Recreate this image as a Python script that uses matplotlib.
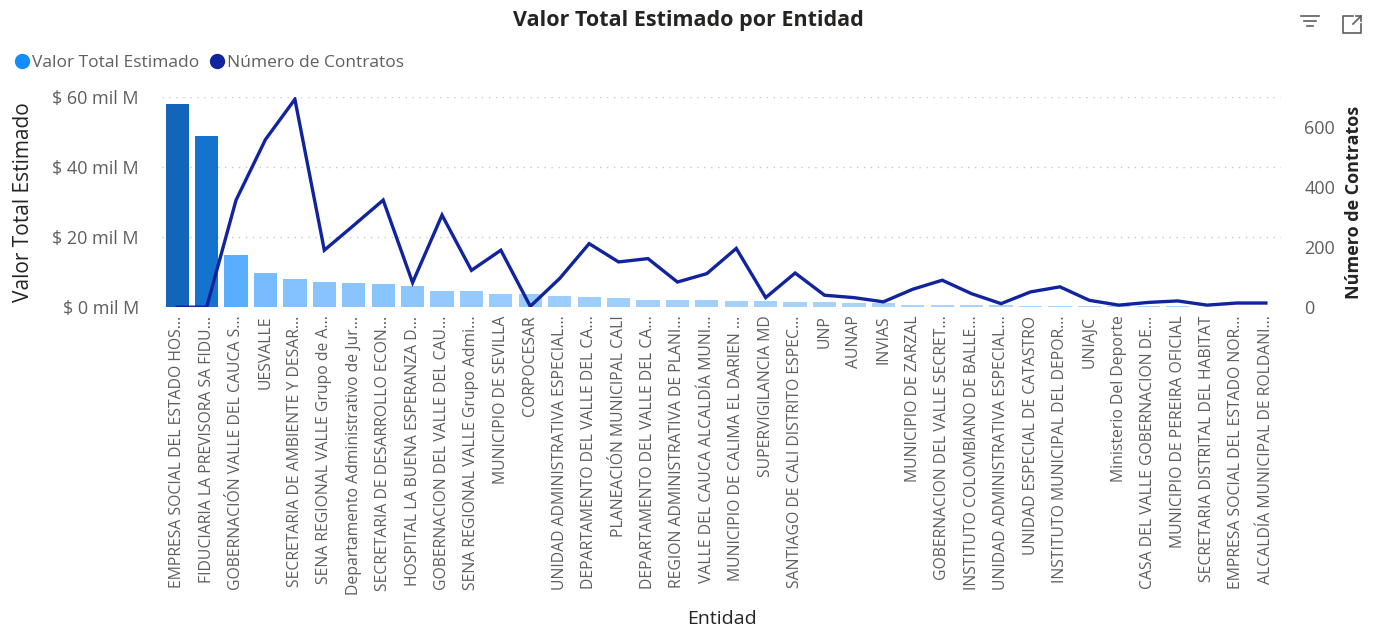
import numpy as np
import matplotlib.pyplot as plt
from matplotlib.colors import LinearSegmentedColormap
from matplotlib.lines import Line2D

plt.rcParams["font.family"] = ["Open Sans", "DejaVu Sans"]

entidades = [
    "EMPRESA SOCIAL DEL ESTADO HOS...", "FIDUCIARIA LA PREVISORA SA FIDU...",
    "GOBERNACIÓN VALLE DEL CAUCA S...", "UESVALLE",
    "SECRETARIA DE AMBIENTE Y DESAR...", "SENA REGIONAL VALLE Grupo de A...",
    "Departamento Administrativo de Jur...", "SECRETARIA DE DESARROLLO ECON...",
    "HOSPITAL LA BUENA ESPERANZA D...", "GOBERNACION DEL VALLE DEL CAU...",
    "SENA REGIONAL VALLE Grupo Admi...", "MUNICIPIO DE SEVILLA",
    "CORPOCESAR", "UNIDAD ADMINISTRATIVA ESPECIAL...",
    "DEPARTAMENTO DEL VALLE DEL CA...", "PLANEACIÓN MUNICIPAL CALI",
    "DEPARTAMENTO DEL VALLE DEL CA...", "REGION ADMINISTRATIVA DE PLANI...",
    "VALLE DEL CAUCA ALCALDÍA MUNI...", "MUNICIPIO DE CALIMA EL DARIEN ...",
    "SUPERVIGILANCIA MD", "SANTIAGO DE CALI DISTRITO ESPEC...",
    "UNP", "AUNAP", "INVIAS", "MUNICIPIO DE ZARZAL",
    "GOBERNACION DEL VALLE SECRET...", "INSTITUTO COLOMBIANO DE BALLE...",
    "UNIDAD ADMINISTRATIVA ESPECIAL...", "UNIDAD ESPECIAL DE CATASTRO",
    "INSTITUTO MUNICIPAL DEL DEPOR...", "UNIAJC", "Ministerio Del Deporte",
    "CASA DEL VALLE GOBERNACION DE...", "MUNICIPIO DE PEREIRA OFICIAL",
    "SECRETARIA DISTRITAL DEL HABITAT", "EMPRESA SOCIAL DEL ESTADO NOR...",
    "ALCALDÍA MUNICIPAL DE ROLDANI...",
]
# valor total estimado (mil millones)
valor = [58.0, 48.9, 15.0, 9.9, 8.0, 7.1, 7.0, 6.6, 6.2, 4.6, 4.5, 3.9,
         3.8, 3.2, 2.9, 2.7, 2.1, 2.1, 2.1, 1.8, 1.8, 1.5, 1.5, 1.1, 1.1,
         0.75, 0.75, 0.6, 0.5, 0.45, 0.4, 0.35, 0.3, 0.3, 0.25, 0.2, 0.2, 0.15]
contratos = [0, 0, 357, 559, 693, 190, 273, 357, 82, 307, 123, 190,
             3, 96, 212, 151, 162, 84, 112, 196, 32, 114, 40, 32, 18,
             60, 90, 45, 12, 51, 68, 23, 7, 16, 21, 7, 14, 14]

x = np.arange(len(entidades))
cmap = LinearSegmentedColormap.from_list(
    "pbi", [(0, "#acd5ff"), (0.15, "#7fbfff"), (0.3, "#4aa8ff"), (0.8, "#1577d3"), (1, "#1166ba")])
colores = cmap(np.array(valor) / max(valor))

fig = plt.figure(figsize=(13.77, 6.27), dpi=100)
ax = fig.add_axes([0.118, 0.510, 0.812, 0.335])
ax2 = ax.twinx()

ax.bar(x, valor, width=0.79, color=colores)
ax2.plot(x, contratos, color="#12239E", lw=2.4, solid_joinstyle="miter")

ax.set_xlim(-0.5, len(entidades) - 0.5)
ax.set_ylim(0, 60)
ax2.set_ylim(0, 700)
ax.set_yticks([0, 20, 40, 60])
ax.set_yticklabels([f"$ {v} mil M" for v in [0, 20, 40, 60]])
ax2.set_yticks([0, 200, 400, 600])
ax.grid(axis="y", color="#c8c8c8", linestyle=(0, (1, 4)), lw=1)
ax.set_axisbelow(True)

for a in (ax, ax2):
    for s in a.spines.values():
        s.set_visible(False)
ax.tick_params(axis="y", length=0, labelsize=13, colors="#605E5C", pad=17)
ax2.tick_params(axis="y", length=0, labelsize=13, colors="#605E5C", pad=17)
ax.tick_params(axis="x", length=0, labelsize=11.3, colors="#605E5C", pad=6)
ax.set_xticks(x)
ax.set_xticklabels(entidades, rotation=90)

ax.set_ylabel("Valor Total Estimado", fontsize=15, color="#252423")
ax.yaxis.set_label_coords(-0.115, 0.5)
ax2.set_ylabel("Número de Contratos", fontsize=13, color="#252423", fontweight="bold")
ax2.yaxis.set_label_coords(1.058, 0.5)
ax.set_xlabel("Entidad", fontsize=14, color="#252423")
ax.xaxis.set_label_coords(0.5, -1.443)

fig.text(0.5, 0.967, "Valor Total Estimado por Entidad", ha="center", va="center",
         fontsize=15.5, fontweight="bold", color="#252423")

handles = [Line2D([], [], marker="o", ls="", color="#118DFF", markersize=10),
           Line2D([], [], marker="o", ls="", color="#12239E", markersize=10)]
fig.legend(handles, ["Valor Total Estimado", "Número de Contratos"], loc="center left",
           bbox_to_anchor=(-0.002, 0.9), ncol=2, frameon=False, fontsize=12.5,
           handlelength=1.0, handletextpad=0.1, columnspacing=0.5, labelcolor="#605E5C")

# iconos de la esquina (filtro y expandir)
icon = dict(color="#605E5C", lw=1.2, transform=fig.transFigure)
for i, (x0, x1) in enumerate([(1301, 1319), (1304, 1316), (1307, 1313)]):
    yy = 1 - (16 + i * 5) / 627
    fig.add_artist(Line2D([x0 / 1377, x1 / 1377], [yy, yy], **icon))
bx = np.array([1353, 1343, 1343, 1361, 1361]) / 1377
by = 1 - np.array([16, 16, 33, 33, 24]) / 627
fig.add_artist(Line2D(bx, by, **icon))
fig.add_artist(Line2D([1353 / 1377, 1361 / 1377], [1 - 24 / 627, 1 - 16 / 627], **icon))
fig.add_artist(Line2D([1356 / 1377, 1361 / 1377, 1361 / 1377], [1 - 16 / 627, 1 - 16 / 627, 1 - 21 / 627], **icon))

fig.savefig("out.png", dpi=100)
